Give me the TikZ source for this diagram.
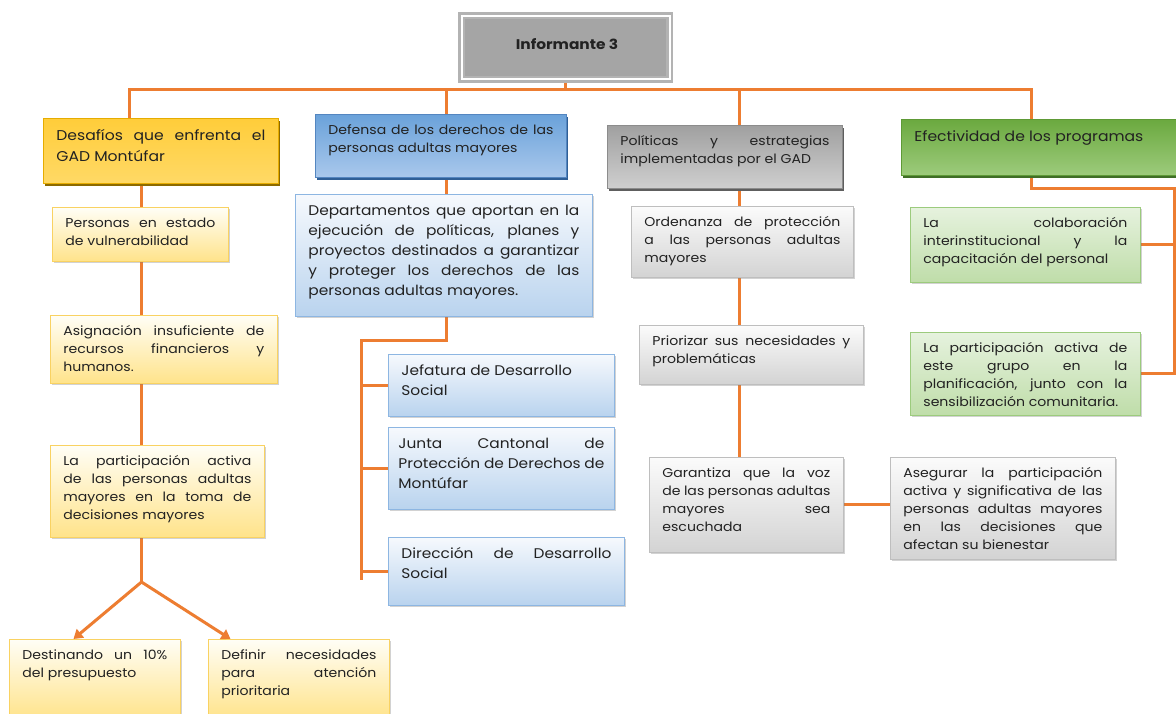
\documentclass[tikz,border=0pt]{standalone}
\usepackage{fontspec}
\setmainfont{Poppins}[FakeStretch=1.1]
\usetikzlibrary{arrows.meta,shadows,backgrounds}
\definecolor{org}{HTML}{ED7D31}
\definecolor{txt}{HTML}{222222}
\definecolor{yelD}{HTML}{F9D262}\definecolor{yelT}{HTML}{FFFEF6}\definecolor{yelBt}{HTML}{FFE38A}
\definecolor{bluD}{HTML}{8DB6E2}\definecolor{bluT}{HTML}{F6F9FD}\definecolor{bluBt}{HTML}{B9D3EE}
\definecolor{gryD}{HTML}{BEBEBE}\definecolor{gryT}{HTML}{FBFBFB}\definecolor{gryBt}{HTML}{D3D3D3}
\definecolor{grnD}{HTML}{9CCB7D}\definecolor{grnT}{HTML}{E6F2DE}\definecolor{grnBt}{HTML}{BFDDA9}
\definecolor{h1a}{HTML}{FFCD3A}\definecolor{h1b}{HTML}{FFC000}\definecolor{h1c}{HTML}{FFD966}\definecolor{h1d}{HTML}{E6AC00}\definecolor{h1s}{HTML}{8C6A00}
\definecolor{h2a}{HTML}{6AA2DA}\definecolor{h2b}{HTML}{7FAFE0}\definecolor{h2c}{HTML}{A9C8EC}\definecolor{h2d}{HTML}{5486C0}\definecolor{h2s}{HTML}{2F5F96}
\definecolor{h3a}{HTML}{A0A0A0}\definecolor{h3b}{HTML}{A8A8A8}\definecolor{h3c}{HTML}{CFCFCF}\definecolor{h3d}{HTML}{8C8C8C}\definecolor{h3s}{HTML}{5E5E5E}
\definecolor{h4a}{HTML}{6BA93F}\definecolor{h4b}{HTML}{74B04B}\definecolor{h4c}{HTML}{9DCB7C}\definecolor{h4d}{HTML}{5E9A36}\definecolor{h4s}{HTML}{3F6E26}
\definecolor{infF}{HTML}{A5A5A5}\definecolor{infD}{HTML}{B3B3B3}
\newcommand\tx[3]{\parbox[t][#2pt][t]{#1pt}{\hyphenpenalty=10000\exhyphenpenalty=10000\tolerance=9999\hbadness=10000\hfuzz=20pt\strut #3}}
\newcommand\lb{\linebreak}
\tikzset{
  bx/.style={anchor=north west, inner xsep=13pt, inner ysep=7pt, line width=0.8pt, text=txt},
  fsm/.style={font=\fontsize{12.8}{18}\selectfont},
  fbg/.style={font=\fontsize{14}{20}\selectfont},
  fhd/.style={font=\fontsize{14.2}{21}\selectfont},
  lsh/.style={drop shadow={shadow xshift=1.5pt, shadow yshift=-2pt, opacity=0.35, fill=black!50}},
  yel/.style={bx, fsm, lsh, draw=yelD, top color=yelT, bottom color=yelBt},
  blu/.style={bx, fbg, lsh, draw=bluD, top color=bluT, bottom color=bluBt},
  gry/.style={bx, fsm, lsh, draw=gryD, top color=gryT, bottom color=gryBt},
  grn/.style={bx, fsm, lsh, draw=grnD, top color=grnT, bottom color=grnBt},
  hdr1/.style={bx, fhd, draw=h1d, top color=h1a, middle color=h1b, bottom color=h1c, drop shadow={shadow xshift=1.5pt, shadow yshift=-3pt, opacity=1, fill=h1s}},
  hdr2/.style={bx, fsm, draw=h2d, top color=h2a, middle color=h2b, bottom color=h2c, drop shadow={shadow xshift=1.5pt, shadow yshift=-3pt, opacity=1, fill=h2s}},
  hdr3/.style={bx, fsm, draw=h3d, top color=h3a, middle color=h3b, bottom color=h3c, drop shadow={shadow xshift=1.5pt, shadow yshift=-3pt, opacity=1, fill=h3s}},
  hdr4/.style={bx, fhd, draw=h4d, top color=h4a, middle color=h4b, bottom color=h4c, drop shadow={shadow xshift=1.5pt, shadow yshift=-3pt, opacity=1, fill=h4s}},
  con/.style={draw=org, line width=3pt},
  arr/.style={con, -{Triangle[width=11pt,length=9pt]}},
}
\begin{document}
\begin{tikzpicture}[x=1pt,y=-1pt]
\begin{scope}[on background layer]
\fill[white] (0,0) rectangle (1176,713);
\end{scope}
\useasboundingbox (0,0) rectangle (1176,713);

% root
\node[draw=infD, fill=infF, double=white, double distance=2pt, line width=2.6pt,
      minimum width=208pt, minimum height=63.5pt, inner sep=0pt,
      font=\bfseries\fontsize{14}{16}\selectfont, text=txt] (inf) at (565.5,47.5) {\hspace*{3pt}\raisebox{6pt}{Informante 3}};

% level 1
\node[hdr1] (d1) at (43,118) {\tx{209}{51}{Desafíos que enfrenta el\lb GAD Montúfar}};
\node[hdr2] (d2) at (315,114) {\tx{225}{49}{Defensa de los derechos de las\lb personas adultas mayores}};
\node[hdr3] (d3) at (607,125) {\tx{209}{49}{Políticas y estrategias\lb implementadas por el GAD}};
\node[hdr4] (d4) at (901,119) {\tx{254}{42}{Efectividad de los programas}};

% left column
\node[yel] (p1) at (52,207) {\tx{150}{40}{Personas en estado\lb de vulnerabilidad}};
\node[yel] (p2) at (50,315) {\tx{201}{54}{Asignación insuficiente de\lb recursos financieros y\lb humanos.}};
\node[yel] (p3) at (50,445) {\tx{188}{78}{La participación activa\lb de las personas adultas\lb mayores en la toma de\lb decisiones mayores}};
\node[yel] (p4) at (9,639) {\tx{145}{66}{Destinando un 10\%\lb del presupuesto}};
\node[yel] (p5) at (208,639) {\tx{155}{66}{Definir necesidades\lb para atención\lb prioritaria}};

% middle column
\node[blu] (b0) at (295,194) {\tx{271}{108}{Departamentos que aportan en la\lb ejecución de políticas, planes y\lb proyectos destinados a garantizar\lb y proteger los derechos de las\lb personas adultas mayores.}};
\node[blu] (b1) at (388,354) {\tx{200}{48}{Jefatura de Desarrollo\newline Social}};
\node[blu, inner xsep=10pt] (b2) at (388,427) {\tx{206}{68}{Junta Cantonal de\lb Protección de Derechos de\lb Montúfar}};
\node[blu] (b3) at (388,537) {\tx{210}{54}{Dirección de Desarrollo\lb Social}};

% politicas column
\node[gry] (g1) at (631,206) {\tx{196}{57}{Ordenanza de protección\lb a las personas adultas\lb mayores}};
\node[gry] (g2) at (639,325) {\tx{198}{45}{Priorizar sus necesidades y\lb problemáticas}};
\node[gry] (g3) at (649,457) {\tx{168}{81}{Garantiza que la voz\lb de las personas adultas\lb mayores sea\lb escuchada}};
\node[gry] (g4) at (890,457) {\tx{199}{88}{Asegurar la participación\lb activa y significativa de las\lb personas adultas mayores\lb en las decisiones que\lb afectan su bienestar}};

% efectividad column
\node[grn] (e1) at (910,207) {\tx{204}{61}{La colaboración\lb interinstitucional y la\lb capacitación del personal}};
\node[grn] (e2) at (910,332) {\tx{204}{69}{La participación activa de\lb este grupo en la\lb planificación, junto con la\lb sensibilización comunitaria.}};

% coordinates
\coordinate (L) at (129,89);
\coordinate (R) at (1031,89);
\coordinate (T2) at (446,89);
\coordinate (T3) at (739,89);
\coordinate (XL) at (141.5,0);
\coordinate (BR) at (141.5,582);
\coordinate (A1) at (73.5,0);
\coordinate (A2) at (230.5,0);
\coordinate (XM) at (446,0);
\coordinate (M1) at (361,340);
\coordinate (M2) at (361,580);
\coordinate (XP) at (739,0);
\coordinate (XE) at (1031,0);
\coordinate (E1) at (1174,188);

\begin{scope}[on background layer]
\draw[con] (inf.south) -- (inf.south |- L);
\draw[con] (L |- d1.north) -- (L) -- (R) -- (R |- d4.north);
\draw[con] (T2) -- (T2 |- d2.north);
\draw[con] (T3) -- (T3 |- d3.north);
% left
\draw[con] (XL |- d1.south) -- (XL |- p1.north);
\draw[con] (XL |- p1.south) -- (XL |- p2.north);
\draw[con] (XL |- p2.south) -- (XL |- p3.north);
\draw[con] (XL |- p3.south) -- (BR);
% middle
\draw[con] (XM |- d2.south) -- (XM |- b0.north);
\draw[con] (XM |- b0.south) |- (M1) -- (M2);
\draw[con] (b1.west) -- (b1.west -| M1);
\draw[con] (b2.west) -- (b2.west -| M1);
\draw[con] (b3.west) -- (b3.west -| M1);
% politicas
\draw[con] (XP |- d3.south) -- (XP |- g1.north);
\draw[con] (XP |- g1.south) -- (XP |- g2.north);
\draw[con] (XP |- g2.south) -- (XP |- g3.north);
\draw[con] (g3.east) -- (g3.east -| g4.west);
% efectividad
\draw[con] (XE |- d4.south) |- (E1) -- (E1 |- e2.east) -- (e2.east);
\draw[con] (e1.east) -- (e1.east -| E1);
\end{scope}
\draw[arr] (BR) -- (p4.north -| A1);
\draw[arr] (BR) -- (p5.north -| A2);
\end{tikzpicture}
\end{document}
